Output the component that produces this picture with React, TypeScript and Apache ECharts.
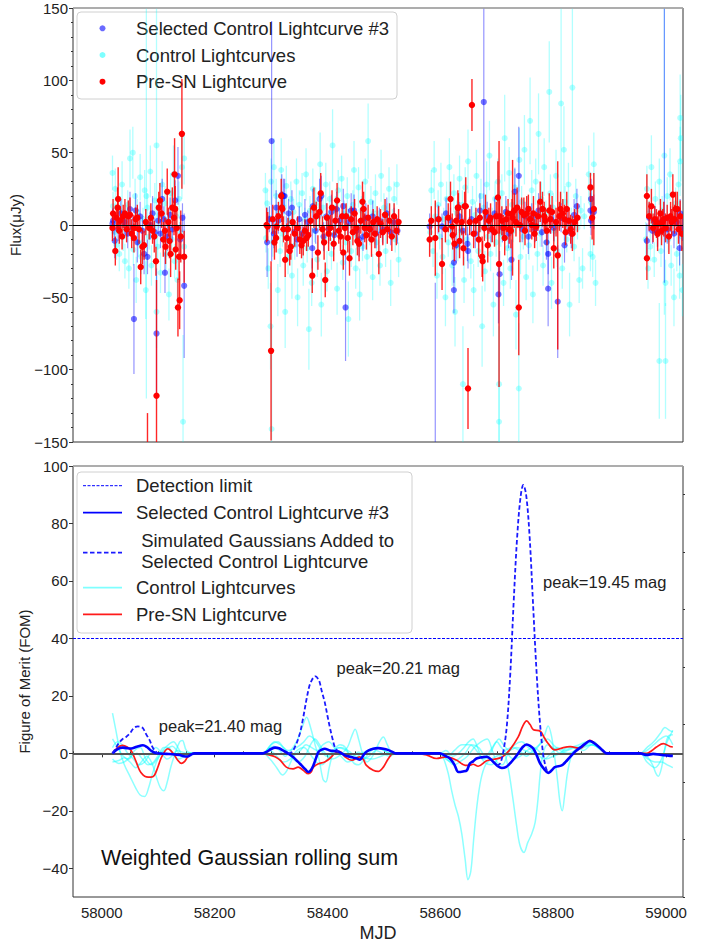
import React, { useEffect, useRef } from 'react';
import * as echarts from 'echarts';

const FONT = '"Liberation Sans", Arial, sans-serif';

// ---------- axes ----------
const X_MIN = 57949;
const X_MAX = 59030;
const X_TICKS = [58000, 58200, 58400, 58600, 58800, 59000];
const X_MINOR = [57950, 58050, 58100, 58150, 58250, 58300, 58350, 58450, 58500, 58550, 58650, 58700, 58750, 58850, 58900, 58950];
const FLUX_MIN = -150;
const FLUX_MAX = 150;
const FOM_MIN = -50;
const FOM_MAX = 100;
const FOM_TICKS = [-40, -20, 0, 20, 40, 60, 80, 100];
const FOM_MINOR = [-50, -30, -10, 10, 30, 50, 70, 90];
const DETECTION_LIMIT = 40;

// ---------- top panel: [MJD, flux, error] ----------
const CONTROL_PTS = [
  [58019,36,12],[58020,13,10],[58022,-5,9],[58024,25,14],[58026,-14,10],[58028,2,8],[58031,-20,12],[58033,10,10],[58036,28,16],[58038,-8,10],
  [58041,-25,12],[58043,5,9],[58046,14,10],[58048,-30,14],[58050,46,20],[58052,-3,8],[58055,50,18],[58056,-17,11],[58059,20,12],[58061,-38,16],
  [58063,9,9],[58065,-12,10],[58068,33,16],[58070,-22,12],[58073,4,8],[58076,24,14],[58078,-45,20],[58079,20,140],[58081,12,10],[58084,-8,9],
  [58086,37,18],[58088,-28,14],[58091,-2,8],[58094,17,12],[58097,55,100],[58097,-60,25],[58099,-15,10],[58102,7,9],[58104,-33,14],[58107,28,16],
  [58109,-6,9],[58112,15,12],[58114,-20,11],[58117,3,8],[58119,-48,18],[58122,22,14],[58124,-10,10],[58127,35,20],[58129,-25,12],[58132,6,9],
  [58134,-38,16],[58137,18,12],[58139,-5,9],[58142,40,22],[58144,-136,60],[58146,46,18],[58146,-15,12],
  [58290,24,12],[58291,-9,10],[58293,15,10],[58295,-30,14],[58297,5,8],[58299,-70,30],[58300,30,16],[58301,-141,70],[58303,-12,10],[58305,40,20],
  [58307,-3,8],[58309,20,12],[58312,-45,18],[58314,8,9],[58316,-18,11],[58318,38,22],[58320,-6,9],[58323,12,10],[58325,-60,25],[58327,27,14],
  [58330,-22,12],[58332,3,8],[58335,18,12],[58337,-35,16],[58340,9,9],[58342,-14,10],[58345,30,16],[58347,-50,20],[58350,14,10],[58352,-8,9],
  [58355,22,14],[58357,-28,14],[58360,4,8],[58362,35,18],[58364,-16,10],[58367,-72,28],[58369,10,10],[58372,-40,16],[58374,25,14],[58377,-4,8],
  [58379,15,11],[58382,-24,12],[58384,6,9],[58387,42,22],[58389,-55,22],[58392,12,10],[58394,-10,9],[58397,28,15],[58399,-32,14],[58402,2,8],
  [58404,18,12],[58407,-20,11],[58409,55,25],[58412,-6,9],[58414,10,10],[58417,-44,18],[58419,24,14],[58422,-2,8],[58425,32,16],[58427,-26,12],
  [58430,8,9],[58432,-12,10],[58435,20,13],[58437,-65,26],[58440,5,8],[58442,-18,11],[58445,14,10],[58447,38,20],[58450,-30,14],[58452,-8,9],
  [58455,26,14],[58457,-48,18],[58460,10,10],[58462,-15,10],[58465,4,8],[58467,30,16],[58470,-22,12],[58472,58,26],[58475,-5,9],[58477,16,11],
  [58480,-36,16],[58482,8,9],[58485,22,13],[58487,-12,10],[58490,2,8],[58493,-28,14],[58495,34,18],[58497,-4,8],[58500,12,10],[58503,-18,11],
  [58506,6,9],[58509,25,15],[58512,-40,16],[58515,3,8],[58518,18,12],[58520,-10,9],[58523,28,14],[58526,-24,12],
  [58582,-5,10],[58584,24,14],[58587,-18,11],[58589,38,20],[58591,6,9],[58594,-35,16],[58596,14,10],[58599,-8,9],[58601,28,15],[58604,-22,12],
  [58606,4,8],[58609,-50,20],[58611,18,12],[58614,-12,10],[58616,40,20],[58619,-2,8],[58621,-28,14],[58624,22,13],[58626,-60,24],[58629,8,9],
  [58631,-15,10],[58634,32,16],[58636,-4,8],[58639,14,10],[58640,-110,40],[58642,-38,16],[58644,26,14],[58647,-10,9],[58649,44,22],[58652,2,8],
  [58654,-25,12],[58657,16,11],[58659,-45,18],[58662,7,9],[58664,34,18],[58667,-18,11],[58669,-3,8],[58672,20,12],[58674,-70,28],[58677,12,10],
  [58679,-32,14],[58682,28,16],[58684,-8,9],[58687,48,24],[58689,-20,12],[58692,4,8],[58694,-55,22],[58697,18,12],[58699,-12,10],[58702,30,16],
  [58704,-110,40],[58704,-136,170],[58707,-6,9],[58709,22,13],[58712,-40,16],[58714,60,30],[58717,8,9],[58719,-16,10],[58722,36,18],[58724,-30,14],
  [58727,14,10],[58729,-4,8],[58732,26,14],[58734,-62,24],[58737,6,9],[58739,-113,45],[58740,45,22],[58742,-22,12],[58744,16,11],[58747,-8,9],
  [58749,52,24],[58752,-36,16],[58754,10,10],[58757,-14,10],[58759,72,30],[58762,24,14],[58764,-48,20],[58767,2,8],[58769,30,16],[58772,-20,12],
  [58774,63,28],[58777,-6,9],[58779,18,12],[58782,-28,14],[58784,40,20],[58787,8,9],[58789,-12,10],[58793,92,35],[58795,22,13],[58797,-40,18],
  [58800,12,10],[58802,-4,8],[58805,34,18],[58807,-18,11],[58810,6,9],[58814,84,70],[58816,-30,14],[58819,52,30],[58821,16,11],[58824,-10,9],
  [58827,28,15],[58829,-55,22],[58832,4,8],[58834,95,55],[58837,-15,10],[58840,20,12],[58843,-2,8],[58846,-38,16],[58849,10,10],[58852,-30,14],
  [58855,6,9],[58863,35,20],[58866,-20,12],[58868,15,12],[58870,-22,14],[58872,42,22],[58875,-40,16],
  [58964,-10,12],[58966,25,16],[58968,-30,14],[58970,8,9],[58972,-15,10],[58974,40,22],[58976,2,8],[58979,-24,12],[58981,18,12],[58984,-6,9],
  [58988,-94,40],[58988,30,16],[58991,-18,11],[58993,10,10],[58997,48,110],[58999,-94,40],[58999,-40,16],[59002,20,13],[59004,-10,9],[59007,35,18],
  [59009,-28,14],[59012,5,8],[59014,-50,20],[59017,15,11],[59019,-20,12],[59022,28,15],[59024,-35,16],[59025,44,24],[59026,60,30],[59025,74,30],
  [59028,-8,9],[59029,-45,18]
];

const SELECTED_PTS = [
  [58019,1,10],[58020,3,9],[58023,-11,12],[58029,-3,8],[58034,8,10],[58040,2,8],[58046,-6,10],[58050,11,12],[58055,-2,9],[58057,-65,38],
  [58060,10,12],[58063,-12,14],[58068,6,10],[58072,-4,9],[58075,-20,14],[58081,-22,12],[58086,0,10],[58090,8,12],[58094,-5,10],[58097,-75,45],
  [58100,3,9],[58104,-6,10],[58107,18,14],[58110,4,9],[58112,-33,14],[58116,-8,10],[58121,7,12],[58125,-3,9],[58130,17,14],[58135,34,20],
  [58139,-10,12],[58143,5,10],[58146,-42,50],
  [58293,-12,24],[58297,4,9],[58301,58,83],[58305,-6,10],[58309,12,12],[58313,3,9],[58319,21,14],[58322,20,12],[58324,20,12],[58327,-3,9],
  [58331,8,10],[58337,12,12],[58341,-5,9],[58346,-10,12],[58350,4,9],[58355,-6,10],[58360,7,11],[58365,2,8],[58373,-16,14],[58374,13,12],
  [58379,-4,9],[58386,18,14],[58389,20,14],[58393,-8,10],[58398,6,9],[58402,-3,10],[58407,9,12],[58412,-7,10],[58416,11,12],[58421,3,9],
  [58428,13,12],[58432,-57,37],[58437,2,9],[58442,10,12],[58447,10,11],[58451,-4,9],[58456,-10,12],[58463,-8,10],[58468,5,10],[58474,-2,9],
  [58480,6,11],[58486,-6,10],[58492,3,9],[58498,-3,10],[58505,8,11],[58512,-5,9],[58518,2,10],[58524,-4,9],
  [58581,-1,9],[58591,-170,130],[58596,4,10],[58603,-1,9],[58610,8,11],[58618,3,9],[58624,-26,14],[58624,-45,16],[58628,-14,12],[58634,6,10],
  [58640,-4,9],[58648,-13,12],[58649,-18,12],[58655,4,9],[58662,-6,10],[58670,10,12],[58677,85,90],[58683,6,10],[58690,-3,9],[58696,8,11],
  [58703,-48,20],[58705,-34,16],[58710,-2,10],[58716,9,11],[58721,-6,10],[58726,-24,14],[58732,23,16],[58739,34,34],[58745,-3,9],[58750,6,10],
  [58756,-8,12],[58762,5,10],[58768,-3,9],[58774,10,12],[58780,-5,10],[58788,-12,12],[58791,-44,26],[58791,-20,14],[58796,4,10],[58801,-2,9],
  [58808,-53,39],[58814,5,10],[58820,-14,12],[58826,3,9],[58832,-6,10],[58837,7,11],[58842,13,12],[58866,10,12],[58867,18,14],[58867,3,10],
  [58872,9,12],
  [58966,-11,12],[58970,5,10],[58976,-4,9],[58980,3,10],[58985,-5,10],[58990,2,9],[58997,175,215],[59002,-3,10],[59008,4,9],[59014,-6,10],
  [59019,2,9],[59024,-16,12],[59025,8,10],[59029,-2,9]
];

const PRE_SN_PTS = [
  [58019,-2,9],[58020,8,10],[58024,-18,10],[58026,5,8],[58028,12,14],[58029,18,22],[58031,-4,9],[58033,3,10],[58036,-8,9],[58038,6,8],
  [58041,8,10],[58044,-3,9],[58047,6,11],[58050,7,12],[58053,-6,10],[58057,-2,9],[58057,-9,10],[58060,4,8],[58063,5,9],[58066,-3,10],
  [58069,-29,12],[58072,-15,12],[58075,-14,10],[58078,2,9],[58081,-175,45],[58084,-2,8],[58087,5,10],[58090,-4,9],[58093,-8,11],[58096,-25,10],
  [58097,-118,80],[58101,12,11],[58103,17,12],[58106,8,10],[58109,-10,12],[58112,-4,9],[58113,-15,12],[58116,23,16],[58118,2,10],[58120,-11,12],
  [58122,-20,16],[58125,12,14],[58128,5,12],[58129,35,25],[58130,11,16],[58131,-17,14],[58133,-2,15],[58135,-57,20],[58137,-22,16],[58138,-52,20],
  [58140,-8,18],[58142,63,38],[58146,-22,18],
  [58292,0,12],[58294,-1,10],[58300,-87,62],[58303,4,10],[58306,-12,12],[58309,-9,10],[58310,-1,9],[58313,6,10],[58318,20,12],[58319,12,10],
  [58320,11,12],[58322,-3,9],[58325,-24,12],[58328,-9,10],[58330,-3,8],[58333,-18,10],[58335,-15,9],[58338,2,8],[58342,-6,9],[58347,-2,8],
  [58351,-10,10],[58354,-14,9],[58357,-11,10],[58360,-4,8],[58363,-9,9],[58366,-7,8],[58370,3,9],[58373,-35,12],[58376,12,14],[58380,6,10],
  [58383,-19,12],[58386,9,11],[58388,22,14],[58391,-3,9],[58394,-12,12],[58396,-38,12],[58399,5,10],[58402,-6,12],[58405,-2,9],[58408,12,12],
  [58411,-13,12],[58414,3,10],[58417,17,12],[58420,-4,9],[58423,-8,10],[58426,6,9],[58428,-19,12],[58431,-2,8],[58433,6,9],[58436,-9,10],
  [58439,-23,12],[58442,4,9],[58445,-5,9],[58448,8,10],[58451,-2,9],[58453,-11,10],[58456,-13,12],[58459,3,9],[58462,16,14],[58464,11,12],
  [58466,-2,10],[58469,-7,10],[58472,5,9],[58475,-3,8],[58478,-10,12],[58481,2,9],[58484,-6,10],[58488,4,9],[58491,-20,14],[58494,1,10],
  [58498,-5,9],[58502,7,11],[58506,-3,10],[58510,3,12],[58514,-8,10],[58518,6,9],[58522,-4,10],[58526,2,9],
  [58581,-10,12],[58584,3,10],[58591,-9,26],[58597,4,9],[58603,-27,18],[58609,-3,9],[58614,5,10],[58618,18,12],[58621,-1,9],[58622,-7,10],
  [58625,-13,12],[58628,3,10],[58631,12,12],[58632,12,10],[58634,-11,12],[58638,2,9],[58641,-16,12],[58643,13,10],[58645,13,20],[58649,-113,28],
  [58652,2,9],[58656,83,18],[58659,-6,10],[58663,3,9],[58668,-10,12],[58670,5,10],[58674,-22,14],[58675,-25,14],[58678,-2,9],[58680,9,12],
  [58684,-14,12],[58686,3,9],[58689,5,10],[58692,-3,9],[58696,-5,10],[58699,6,10],[58702,19,25],[58704,-27,85],[58705,6,12],[58709,3,10],
  [58712,-2,9],[58714,-9,12],[58717,4,9],[58720,8,10],[58722,-3,10],[58725,-4,12],[58727,8,10],[58728,5,40],[58731,10,12],[58734,2,10],
  [58736,12,14],[58739,-57,33],[58741,0,12],[58744,9,10],[58748,7,12],[58750,-4,10],[58753,8,12],[58756,11,10],[58759,4,9],[58762,0,10],
  [58765,8,12],[58767,-6,10],[58770,-1,10],[58773,6,10],[58777,16,14],[58781,11,12],[58784,6,10],[58786,3,9],[58789,-4,10],[58793,10,12],
  [58795,4,10],[58798,9,11],[58801,-16,14],[58805,2,10],[58808,-21,65],[58811,6,10],[58813,11,12],[58817,8,10],[58820,4,10],[58822,-5,9],
  [58824,11,12],[58828,3,9],[58831,-3,10],[58834,-6,12],[58838,2,9],[58843,5,10],[58866,26,10],[58869,5,15],[58872,11,25],
  [58966,20,15],[58966,-23,15],[58970,6,10],[58974,13,12],[58977,-2,10],[58980,4,9],[58983,1,10],[58985,-6,12],[58987,1,9],[58990,8,10],
  [58992,-4,10],[58994,2,9],[58996,4,12],[58999,-2,10],[59002,5,9],[59005,-8,12],[59008,6,10],[59010,2,9],[59012,21,14],[59015,4,10],
  [59017,11,12],[59020,11,12],[59022,-3,10],[59025,6,11],[59028,-6,12]
];

// ---------- bottom panel: [MJD, FOM] ----------
const PRE_SN_FOM = [
  [58019,0],[58028,2],[58037,2.8],[58045,2.2],[58052,1],[58060,-2.5],[58067,-5.9],[58073,-7.5],[58079,-8.2],[58087,-8.3],[58093,-7.7],[58099,-5],
  [58105,-1.7],[58111,0.5],[58117,1.6],[58123,0.8],[58129,-0.7],[58135,-2.5],[58141,-3.5],[58147,-2.8],[58152,-1.3],[58158,-0.3],[58164,0],
  [58280,0],[58298,-0.6],[58307,-1.2],[58316,-2.4],[58327,-4.8],[58339,-5.4],[58348,-4.8],[58357,-5.9],[58366,-7.1],[58371,-6.5],[58375,-4.8],
  [58384,-3.6],[58395,-3],[58404,-1.8],[58413,0],[58422,0.6],[58431,-1.2],[58443,-2.4],[58457,-1.2],[58463,-2],[58469,-4.2],[58481,-5.9],
  [58490,-6.3],[58499,-4.8],[58508,-1.8],[58517,0],[58558,0],[58576,-0.6],[58593,-1.8],[58611,-1.2],[58629,-2.4],[58644,-4.2],[58652,-4.2],
  [58658,-3.8],[58667,-4.5],[58682,-2.6],[58694,-2.1],[58709,-1.4],[58723,1.2],[58738,5.7],[58746,9.5],[58753,11.3],[58759,10],[58765,8.2],
  [58777,7.7],[58784,5.5],[58791,3.4],[58803,1.2],[58818,2],[58830,2.3],[58848,1.7],[58858,3.5],[58865,4.5],[58872,3.8],[58880,2.4],[58895,0],
  [58966,0],[58975,1],[58983,2.2],[58995,3.4],[59007,2.4],[59012,2.2]
];

const SELECTED_FOM = [
  [58019,0],[58028,1.5],[58037,2],[58045,1.8],[58052,1.7],[58062,2.3],[58073,2.8],[58080,2.2],[58087,1],[58093,0.3],[58099,0],[58114,-0.2],
  [58126,-0.3],[58138,-0.6],[58145,-1],[58152,-1.1],[58158,-0.5],[58164,0],[58285,0],[58292,0.5],[58300,1.5],[58307,2],[58314,1.8],[58321,1],
  [58330,0],[58339,-1.3],[58347,-2.8],[58354,-4.2],[58361,-5.6],[58366,-6.5],[58370,-6],[58375,-4.2],[58380,-1.5],[58384,0.5],[58390,1.3],
  [58395,1.6],[58404,1],[58411,0.8],[58419,0.6],[58425,0],[58431,-0.7],[58440,-1.2],[58446,-1.5],[58452,-1.8],[58457,-2.2],[58462,-1.2],
  [58466,0],[58473,1],[58481,1.6],[58490,1.8],[58499,1.6],[58507,1.2],[58514,0.6],[58522,0],[58599,0],[58608,-0.8],[58617,-1.8],[58625,-4],
  [58632,-6.5],[58640,-6.3],[58647,-5.9],[58652,-3.6],[58658,-2.8],[58664,-1.8],[58673,-1.4],[58682,-1.2],[58694,-3],[58702,-4.5],[58709,-5.1],
  [58716,-4.8],[58723,-3.6],[58731,-1.8],[58738,0],[58746,2.2],[58753,3.1],[58759,2.6],[58765,1.6],[58771,-0.8],[58777,-3.6],[58784,-5.5],
  [58791,-6.8],[58797,-6],[58803,-4.8],[58815,-4.2],[58822,-3],[58830,-1.2],[58840,0.8],[58848,2],[58857,3.4],[58865,4.3],[58872,3.6],
  [58880,2.4],[58888,1],[58895,0],[58954,0],[58966,-0.6],[58977,-0.2],[58992,-0.6],[59004,-0.8],[59012,-0.9]
];

const SIMULATED_FOM = [
  [58019,0],[58024,1.5],[58030,3.5],[58037,5],[58043,5.7],[58050,7],[58055,8.4],[58060,9.2],[58064,9.4],[58069,9.2],[58073,8.7],[58079,6.5],
  [58085,4.5],[58089,2.5],[58093,1.2],[58099,0],[null,null],
  [58330,0],[58336,0.3],[58343,2.5],[58351,6.9],[58357,12.5],[58363,19],[58368,23.5],[58372,25.4],[58376,26.6],[58379,26.8],[58383,26],
  [58386,24.8],[58390,21.5],[58395,17.9],[58400,13],[58404,9.2],[58409,5],[58413,2.2],[58419,0.6],[null,null],
  [58700,-4.3],[58706,-3.5],[58712,1],[58718,10],[58724,28],[58730,53],[58736,75],[58742,89],[58747,93.4],[58752,90],[58758,76],[58764,53],
  [58770,30],[58776,12],[58782,0],[58787,-5],[58791,-6.8]
];

const CONTROL_FOM_1 = [
  [58019,14],[58025,8],[58032,1],[58040,-4],[58050,-8],[58060,-12],[58068,-14.5],[58076,-15],[58083,-12],[58090,-7],[58097,-3],[58105,0],
  [58115,1.5],[58125,2.5],[58133,1],[58142,-1],[58150,0],[58164,0],[58285,0],[58295,1.5],[58305,2.5],[58315,1],[58325,-1],[58335,1],
  [58345,4],[58355,9],[58363,12.6],[58370,9],[58378,3],[58385,-2],[58392,-9],[58397,-10],[58403,-5],[58410,0],[58420,2],[58432,1],[58445,-1],
  [58455,0.5],[58465,-1.5],[58480,-2],[58495,-1],[58510,0],[58522,0],[58599,0],[58606,-2],[58614,-7],[58620,-13],[58626,-18],[58632,-22],
  [58638,-28],[58644,-37],[58649,-44],[58654,-41],[58659,-30],[58665,-18],[58672,-9],[58680,-4],[58690,-2],[58700,-1],[58712,0],[58720,-5],
  [58728,-15],[58735,-25],[58741,-32],[58748,-34.5],[58755,-31],[58762,-28],[58768,-24],[58773,-16],[58777,-7],[58782,0],[58790,3],[58800,2],
  [58812,0],[58825,1],[58840,2],[58855,2.5],[58870,3],[58882,1.5],[58895,0],[58954,0],[58966,2],[58978,4],[58990,7],[58998,9],[59006,8],[59012,7.5]
];

const CONTROL_FOM_2 = [
  [58019,-3],[58030,-2.5],[58040,-1.5],[58050,-3],[58060,-5],[58070,-3],[58080,-1],[58090,-4],[58098,-9],[58104,-12],[58110,-13],[58116,-10],
  [58122,-5],[58130,0],[58138,4],[58143,4.5],[58150,1],[58164,0],[58285,0],[58300,3],[58312,4],[58322,2],[58335,-1],[58348,-3],[58360,-1],
  [58370,3],[58378,5],[58386,3],[58396,0],[58408,-2],[58420,-1],[58435,2],[58443,6],[58449,8.4],[58455,5],[58462,0],[58470,-3],[58480,-1],
  [58492,4],[58499,5.7],[58506,3],[58515,0],[58522,0],[58599,0],[58610,1],[58622,-1],[58632,0],[58642,2],[58650,4],[58658,5],[58666,2],
  [58676,-2],[58686,-1],[58696,3],[58704,5],[58712,3],[58722,1],[58735,2],[58750,1],[58762,0],[58772,2],[58784,6],[58791,9.5],[58797,6],
  [58803,-2],[58808,-10],[58812,-17],[58816,-20],[58820,-15],[58826,-6],[58834,0],[58845,2],[58858,3],[58872,4],[58882,2],[58895,0],
  [58954,0],[58966,-1],[58976,-4],[58982,-7],[58986,-8],[58992,-5],[58998,2],[59004,6],[59012,6.5]
];

const CONTROL_FOM_3 = [
  [58019,5],[58028,2],[58038,-1],[58048,-2],[58058,1],[58068,2],[58078,-2],[58088,-4],[58098,-2],[58108,1],[58118,3],[58127,4],[58135,2],
  [58145,-1],[58155,-0.5],[58164,0],[58285,0],[58296,2],[58306,4],[58316,3],[58330,1],[58345,2],[58358,4],[58368,6],[58376,5],[58386,2],
  [58398,-1],[58410,1],[58422,3],[58432,2],[58445,-3],[58455,-4],[58465,-2],[58478,1],[58490,2],[58500,1],[58512,0],[58522,0],[58599,0],
  [58612,-2],[58624,-4],[58634,-3],[58648,-1],[58660,2],[58672,4],[58683,5],[58692,1],[58700,-3],[58710,-4],[58720,0],[58732,3],[58744,4],
  [58756,2],[58770,0],[58784,-2],[58796,0],[58808,2],[58820,1],[58832,2],[58846,3],[58860,4],[58872,3.5],[58884,1.5],[58895,0],[58954,0],
  [58968,-2],[58980,-3],[58992,-3],[59002,-4],[59012,-5]
];

const CONTROL_FOM_4 = [
  [58019,-2],[58030,-3.5],[58040,-3],[58052,-1],[58062,0],[58072,-2],[58082,-4],[58092,-3],[58102,0],[58110,2],[58118,2],[58126,0],
  [58136,-2],[58146,-1],[58158,0],[58164,0],[58285,0],[58298,-2],[58310,-5],[58320,-7.5],[58328,-6],[58340,-1],[58352,1],[58362,3],[58372,2],
  [58382,1],[58392,3],[58402,4],[58412,2],[58424,-1],[58436,-3],[58448,-2],[58460,0],[58472,1],[58486,2],[58500,1],[58512,0],[58522,0],
  [58599,0],[58612,-1],[58625,1],[58638,3],[58652,3],[58664,1],[58678,-3],[58690,-4],[58702,-2],[58715,1],[58728,2],[58740,1],[58752,-1],
  [58764,1],[58776,3],[58790,5],[58800,3],[58812,1],[58826,0],[58840,1],[58854,2],[58868,3],[58880,2],[58895,0],[58954,0],[58966,1],
  [58978,3],[58990,5],[59000,6],[59012,3]
];

const CONTROL_FOM_5 = [
  [58019,2],[58028,4],[58036,3],[58046,0],[58056,-2],[58066,-4],[58076,-3],[58086,0],[58096,2],[58106,0],[58116,-2],[58124,-1],[58134,1],
  [58142,0.5],[58154,0],[58164,0],[58285,0],[58298,1],[58310,-1],[58322,-3],[58334,-2],[58346,1],[58358,2],[58368,0],[58380,-3],[58390,-4],
  [58400,-2],[58412,1],[58424,2],[58436,1],[58450,-1],[58462,-2],[58474,-1],[58486,1],[58498,0],[58510,-1],[58522,0],[58599,0],[58610,-2],
  [58620,-3],[58632,-2],[58644,0],[58656,3],[58668,2],[58680,-1],[58692,2],[58700,4],[58708,2],[58718,0],[58730,-2],[58742,-1],[58754,1],
  [58766,2],[58778,0],[58788,-2],[58800,-1],[58812,0],[58826,2],[58840,2],[58854,1],[58868,3],[58880,2],[58895,0],[58954,0],[58966,-3],
  [58980,-5],[58992,-2],[59002,4],[59012,8]
];

const CONTROL_FOM = [CONTROL_FOM_1, CONTROL_FOM_2, CONTROL_FOM_3, CONTROL_FOM_4, CONTROL_FOM_5];

const PEAK_MJD = [58101, 58416, 58782];
const PEAK_FOM = [9.4, 29.6, 59.7];
const PEAK_TEXT = ['peak=21.40 mag', 'peak=20.21 mag', 'peak=19.45 mag'];

const TOP_LEGEND = ['Selected Control Lightcurve #3', 'Control Lightcurves', 'Pre-SN Lightcurve'];
const BOTTOM_LEGEND = ['Detection limit', 'Selected Control Lightcurve #3', ' Simulated Gaussians Added to', ' Selected Control Lightcurve', 'Control Lightcurves', 'Pre-SN Lightcurve'];

const fmt = (v: number) => (v < 0 ? '\u2212' + Math.abs(v) : String(v));

const errRender = (color: string, barOp: number, dotOp: number, r: number, lw: number) => (params: any, api: any) => {
  const x = api.value(0);
  const y = api.value(1);
  const e = api.value(2);
  const c = api.coord([x, y]);
  const t = api.coord([x, y + e]);
  const b = api.coord([x, y - e]);
  return {
    type: 'group',
    children: [
      { type: 'line', shape: { x1: c[0], y1: t[1], x2: c[0], y2: b[1] }, style: { stroke: color, lineWidth: lw, opacity: barOp } },
      { type: 'circle', shape: { cx: c[0], cy: c[1], r }, style: { fill: color, opacity: dotOp } },
    ],
  };
};

export default function App() {
  const ref = useRef<HTMLDivElement>(null);
  useEffect(() => {
    if (!ref.current) return;
    const chart = echarts.init(ref.current, undefined, { renderer: 'svg' });
    const tickLabel = { fontSize: 15, color: '#222', fontFamily: FONT };
    const lineSeries = (data: any, color: string, width: number, opacity: number, z: number, type: any = 'solid') => ({
      type: 'line', xAxisIndex: 1, yAxisIndex: 1, data, showSymbol: false, symbol: 'none', smooth: 0.35,
      connectNulls: false, lineStyle: { color, width, opacity, type }, z, silent: true,
    });
    const option: any = {
      animation: false,
      grid: [
        { left: 73, top: 8, width: 610, height: 434, show: true, borderColor: '#333', borderWidth: 1, backgroundColor: 'transparent' },
        { left: 73, top: 466, width: 610, height: 431, show: true, borderColor: '#333', borderWidth: 1, backgroundColor: 'transparent' },
      ],
      xAxis: [
        { type: 'value', gridIndex: 0, min: X_MIN, max: X_MAX, axisLine: { show: false }, axisTick: { show: false }, axisLabel: { show: false }, splitLine: { show: false } },
        {
          type: 'value', gridIndex: 1, min: X_MIN, max: X_MAX, name: 'MJD', nameLocation: 'middle', nameGap: 27,
          nameTextStyle: { fontSize: 18, color: '#222', fontFamily: FONT },
          axisLine: { show: false },
          axisTick: { show: true, length: 4, customValues: X_TICKS, lineStyle: { color: '#333' } },
          axisLabel: { ...tickLabel, customValues: X_TICKS, margin: 8, formatter: (v: number) => String(v) },
          splitLine: { show: false },
        },
        {
          type: 'value', gridIndex: 1, min: X_MIN, max: X_MAX, axisLine: { show: false },
          axisTick: { show: true, length: 2, customValues: X_MINOR, lineStyle: { color: '#333' } },
          axisLabel: { show: false }, splitLine: { show: false },
        },
      ],
      yAxis: [
        {
          type: 'value', gridIndex: 0, min: FLUX_MIN, max: FLUX_MAX, interval: 50, name: 'Flux(\u03bcJy)', nameLocation: 'middle', nameGap: 45,
          nameTextStyle: { fontSize: 15, color: '#222', fontFamily: FONT },
          axisLine: { show: false }, axisTick: { show: true, length: 4, lineStyle: { color: '#333' } },
          minorTick: { show: true, splitNumber: 5, length: 2, lineStyle: { color: '#333' } },
          axisLabel: { ...tickLabel, margin: 5, formatter: fmt }, splitLine: { show: false },
        },
        {
          type: 'value', gridIndex: 1, min: FOM_MIN, max: FOM_MAX, name: 'Figure of Merit (FOM)', nameLocation: 'middle', nameGap: 35,
          nameTextStyle: { fontSize: 15, color: '#222', fontFamily: FONT },
          axisLine: { show: false }, axisTick: { show: true, length: 4, customValues: FOM_TICKS, lineStyle: { color: '#333' } },
          axisLabel: { ...tickLabel, margin: 5, customValues: FOM_TICKS, formatter: fmt }, splitLine: { show: false },
        },
        {
          type: 'value', gridIndex: 1, min: FOM_MIN, max: FOM_MAX, axisLine: { show: false },
          axisTick: { show: true, length: 2, customValues: FOM_MINOR, lineStyle: { color: '#333' } },
          axisLabel: { show: false }, splitLine: { show: false },
        },
      ],
      series: [
        { type: 'custom', xAxisIndex: 0, yAxisIndex: 0, data: CONTROL_PTS, clip: true, renderItem: errRender('#00ffff', 0.3, 0.3, 3, 1.3), z: 2, silent: true },
        {
          type: 'custom', xAxisIndex: 0, yAxisIndex: 0, data: SELECTED_PTS, clip: true, renderItem: errRender('#0000ff', 0.42, 0.55, 3.1, 1.2), z: 3, silent: true,
          markLine: { silent: true, symbol: 'none', label: { show: false }, lineStyle: { color: '#000', width: 1.2, type: 'solid' }, data: [{ yAxis: 0 }] },
        },
        { type: 'custom', xAxisIndex: 0, yAxisIndex: 0, data: PRE_SN_PTS, clip: true, renderItem: errRender('#ff0000', 0.85, 1, 3.2, 1.4), z: 4, silent: true },
        ...CONTROL_FOM.map((d) => lineSeries(d, '#00ffff', 1.5, 0.45, 2)),
        {
          type: 'line', xAxisIndex: 1, yAxisIndex: 1, data: [], silent: true, z: 3,
          markLine: { silent: true, symbol: 'none', label: { show: false }, lineStyle: { color: '#555', width: 2, type: 'solid' }, data: [{ yAxis: 0 }] },
        },
        lineSeries(PRE_SN_FOM, '#ff1a1a', 1.7, 1, 4),
        lineSeries(SELECTED_FOM, '#0000ff', 2.6, 1, 5),
        lineSeries(SIMULATED_FOM, '#1a1aff', 1.8, 1, 5, [4.5, 2.5]),
        {
          type: 'line', xAxisIndex: 1, yAxisIndex: 1, data: [], silent: true, z: 5,
          markLine: { silent: true, symbol: 'none', label: { show: false }, lineStyle: { color: '#0000ff', width: 1, type: [3, 1.5] }, data: [{ yAxis: DETECTION_LIMIT }] },
        },
        {
          type: 'custom', xAxisIndex: 1, yAxisIndex: 1, silent: true, z: 6,
          data: PEAK_MJD.map((m, i) => [m, PEAK_FOM[i]]),
          renderItem: (params: any, api: any) => {
            const c = api.coord([api.value(0), api.value(1)]);
            return { type: 'text', x: c[0], y: c[1], style: { text: PEAK_TEXT[params.dataIndex], font: `16.5px ${FONT}`, fill: '#222', textAlign: 'left', textVerticalAlign: 'middle' } };
          },
        },
      ],
      graphic: [
        { type: 'line', z: 50, shape: { x1: 73, y1: 8, x2: 683, y2: 8 }, style: { stroke: '#b5b5b5', lineWidth: 1.5 } },
        { type: 'line', z: 50, shape: { x1: 73, y1: 466, x2: 683, y2: 466 }, style: { stroke: '#b5b5b5', lineWidth: 1.5 } },
        {
          type: 'group', z: 100, children: [
            { type: 'rect', shape: { x: 77, y: 12, width: 320, height: 87, r: 4 }, style: { fill: 'rgba(255,255,255,0.8)', stroke: '#d0d0d0', lineWidth: 1 } },
            { type: 'circle', shape: { cx: 102.5, cy: 28.3, r: 3 }, style: { fill: '#6a6aff' } },
            { type: 'circle', shape: { cx: 102.5, cy: 55, r: 3 }, style: { fill: '#7dffff' } },
            { type: 'circle', shape: { cx: 102.5, cy: 81.7, r: 3 }, style: { fill: '#ff0000' } },
            ...TOP_LEGEND.map((t, i) => ({ type: 'text', x: 136, y: [28.3, 55, 81.7][i], style: { text: t, font: `18.5px ${FONT}`, fill: '#222', textVerticalAlign: 'middle' } })),
          ],
        },
        {
          type: 'group', z: 100, children: [
            { type: 'rect', shape: { x: 77, y: 472, width: 335, height: 161, r: 4 }, style: { fill: 'rgba(255,255,255,0.8)', stroke: '#d0d0d0', lineWidth: 1 } },
            { type: 'line', shape: { x1: 83, y1: 485.7, x2: 122, y2: 485.7 }, style: { stroke: '#0000ff', lineWidth: 1, lineDash: [3, 1.5] } },
            { type: 'line', shape: { x1: 83, y1: 512.7, x2: 122, y2: 512.7 }, style: { stroke: '#0000ff', lineWidth: 1.8 } },
            { type: 'line', shape: { x1: 83, y1: 552.7, x2: 122, y2: 552.7 }, style: { stroke: '#1a1aff', lineWidth: 1.8, lineDash: [4.5, 2.5] } },
            { type: 'line', shape: { x1: 83, y1: 587.7, x2: 122, y2: 587.7 }, style: { stroke: '#00ffff', lineWidth: 1.8, opacity: 0.5 } },
            { type: 'line', shape: { x1: 83, y1: 614.3, x2: 122, y2: 614.3 }, style: { stroke: '#ff1a1a', lineWidth: 1.8 } },
            ...BOTTOM_LEGEND.map((t, i) => ({ type: 'text', x: 136, y: [485.7, 512.7, 540, 561, 587.7, 614.3][i], style: { text: t, font: `18.5px ${FONT}`, fill: '#222', textVerticalAlign: 'middle' } })),
          ],
        },
        { type: 'text', z: 100, x: 101, y: 858, style: { text: 'Weighted Gaussian rolling sum', font: `21.5px ${FONT}`, fill: '#111', textVerticalAlign: 'middle' } },
      ],
    };
    chart.setOption(option);
    return () => chart.dispose();
  }, []);
  return <div ref={ref} style={{ position: 'fixed', left: 0, top: 0, width: 706, height: 945, background: '#fff' }} />;
}
